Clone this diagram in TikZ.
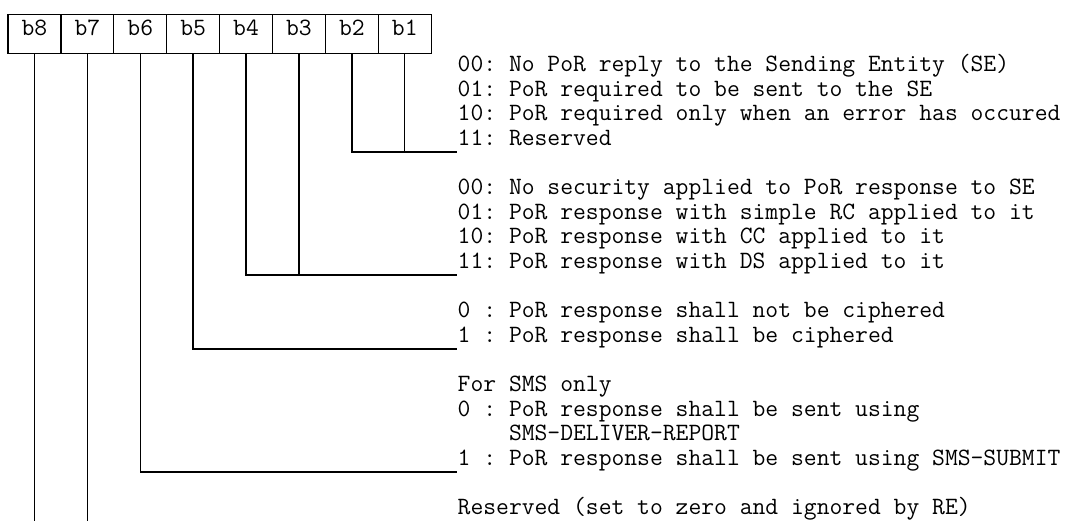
\documentclass[tikz,border=0pt]{standalone}
\usepackage{fontspec}
\newcommand\monotxt{\ttfamily\fontsize{24.9}{24.6}\selectfont\frenchspacing}
\begin{document}
\begin{tikzpicture}[x=1pt,y=-1pt,
  cell/.style={draw, line width=1.35pt, minimum width=52.9pt, minimum height=39.4pt,
    inner sep=0pt, text height=14pt, text depth=10pt, font=\monotxt},
  txt/.style={anchor=base west, inner sep=0pt, font=\monotxt},
  wire/.style={line width=1.35pt}]
\useasboundingbox (0,0) rectangle (1065,521);
% bit cells
\node[cell] (b8) at (34.45,34) {b8};
\node[cell] (b7) at (87.35,34) {b7};
\node[cell] (b6) at (140.25,34) {b6};
\node[cell] (b5) at (193.15,34) {b5};
\node[cell] (b4) at (246.05,34) {b4};
\node[cell] (b3) at (298.95,34) {b3};
\node[cell] (b2) at (351.85,34) {b2};
\node[cell] (b1) at (404.75,34) {b1};
% texts
\node[txt] (t0)  at (457.5,71.7)  {00: No PoR reply to the Sending Entity (SE)};
\node[txt] (t1)  at (457.5,96.3)  {01: PoR required to be sent to the SE};
\node[txt] (t2)  at (457.5,120.9) {10: PoR required only when an error has occured};
\node[txt] (t3)  at (457.5,145.5) {11: Reserved};
\node[txt] (t5)  at (457.5,194.7) {00: No security applied to PoR response to SE};
\node[txt] (t6)  at (457.5,219.3) {01: PoR response with simple RC applied to it};
\node[txt] (t7)  at (457.5,243.9) {10: PoR response with CC applied to it};
\node[txt] (t8)  at (457.5,268.5) {11: PoR response with DS applied to it};
\node[txt] (t10) at (457.5,317.7) {0 : PoR response shall not be ciphered};
\node[txt] (t11) at (457.5,342.3) {1 : PoR response shall be ciphered};
\node[txt] (t13) at (457.5,391.5) {For SMS only};
\node[txt] (t14) at (457.5,416.1) {0 : PoR response shall be sent using};
\node[txt] (t15) at (457.5,440.7) {\hphantom{0 :}\ SMS-DELIVER-REPORT};
\node[txt] (t16) at (457.5,465.3) {1 : PoR response shall be sent using SMS-SUBMIT};
\node[txt] (t18) at (457.5,514.5) {Reserved (set to zero and ignored by RE)};
% line ends
\coordinate (e1) at (456.7,152.0);
\coordinate (e2) at (456.7,275.1);
\coordinate (e3) at (456.7,348.9);
\coordinate (e4) at (456.7,471.9);
\coordinate (bot) at (0,523);
% connectors
\draw[wire] (b2.south) |- (e1);
\draw[wire] (b1.south) -- (b1.south |- e1);
\draw[wire] (b4.south) |- (e2);
\draw[wire] (b3.south) -- (b3.south |- e2);
\draw[wire] (b5.south) |- (e3);
\draw[wire] (b6.south) |- (e4);
\draw[wire] (b7.south) -- (b7.south |- bot);
\draw[wire] (b8.south) -- (b8.south |- bot);
\end{tikzpicture}
\end{document}
